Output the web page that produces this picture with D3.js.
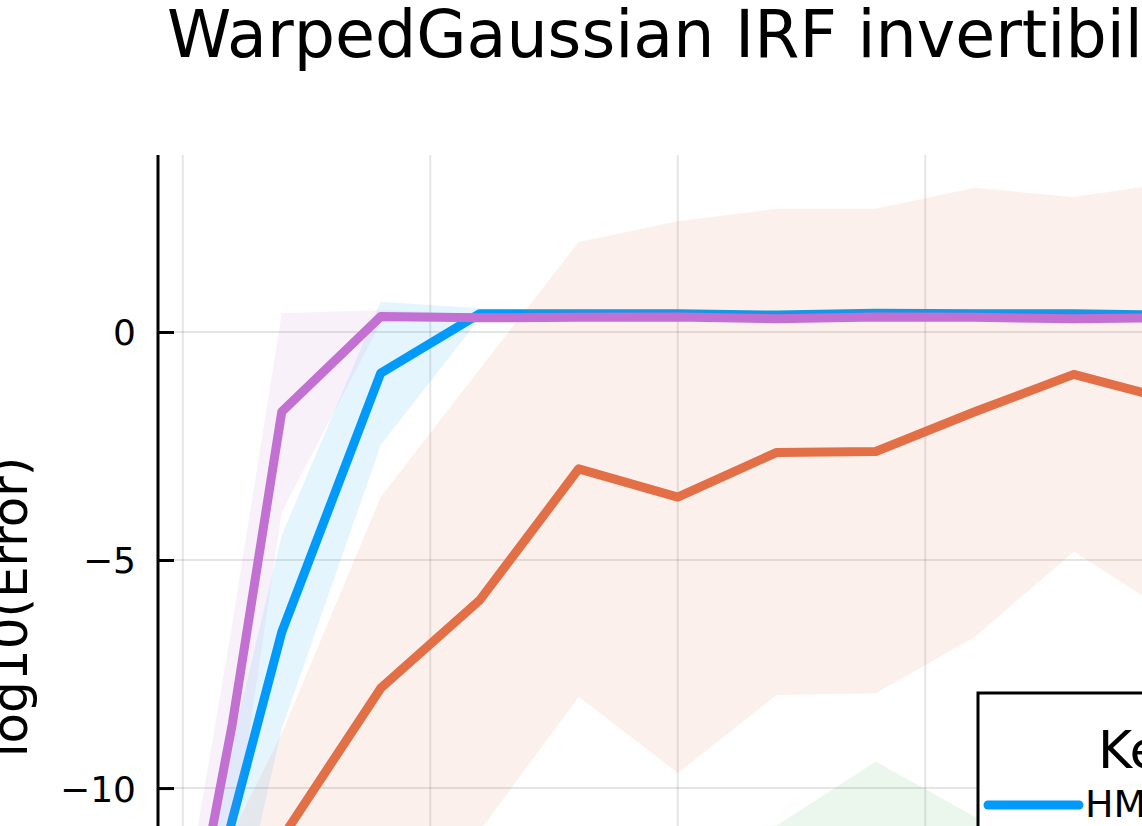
<!DOCTYPE html>
<html>
<head>
<meta charset="utf-8">
<script src="https://cdn.jsdelivr.net/npm/d3@7"></script>
<style>
  body { margin: 0; background: #fff; }
  text { font-family: "DejaVu Sans", sans-serif; }
</style>
</head>
<body>
<div id="chart"></div>
<script>
// x positions (problem size) and log10 error per kernel
var sizes = [0, 1, 2, 4, 6, 8, 10, 12, 14, 16, 18, 20];

var blueMean  = [-15.0, -10.7, -6.58, -0.90, 0.40, 0.40, 0.40, 0.37, 0.41, 0.40, 0.40, 0.37];
var blueUpper = [-13.6, -9.0, -4.45, 0.66, 0.52, 0.48, 0.48, 0.45, 0.49, 0.48, 0.48, 0.45];
var blueLower = [-15.4, -13.5, -8.7, -2.48, 0.30, 0.32, 0.32, 0.29, 0.33, 0.32, 0.32, 0.29];

var orangeMean  = [-15.2, -13.4, -11.1, -7.81, -5.88, -3.0, -3.62, -2.64, -2.62, -1.75, -0.93, -1.5];
var orangeUpper = [-13.0, -11.0, -8.8, -3.62, -0.81, 1.97, 2.43, 2.70, 2.70, 3.16, 2.96, 3.28];
var orangeLower = [-15.38, -15.0, -14.0, -12.8, -10.94, -8.0, -9.67, -7.96, -7.92, -6.69, -4.82, -6.2];

var greenSizes = [6, 8, 10, 12, 14, 16, 18, 20];
var greenMean  = [-15.0, -14.3, -13.6, -13.3, -12.4, -13.0, -13.4, -13.2];
var greenUpper = [-13.8, -12.0, -10.9, -10.82, -9.42, -10.63, -11.0, -11.2];
var greenLower = [-15.38, -15.3, -15.0, -15.2, -14.8, -15.1, -15.2, -15.0];

var purpleMean  = [-14.3, -8.6, -1.75, 0.34, 0.31, 0.32, 0.33, 0.29, 0.33, 0.32, 0.29, 0.31];
var purpleUpper = [-12.8, -6.4, 0.41, 0.48, 0.39, 0.40, 0.41, 0.37, 0.41, 0.40, 0.37, 0.39];
var purpleLower = [-15.2, -11.3, -3.95, 0.20, 0.23, 0.24, 0.25, 0.21, 0.25, 0.24, 0.21, 0.23];

var xTicks = [0, 5, 10, 15, 20];
var yTicks = [-15, -10, -5, 0];
var legendTitle = 'Kernel';
var legendNames = ['HMC'];
var titleText = 'WarpedGaussian IRF invertibility';

var series = [
  {x: sizes, mean: blueMean, lo: blueLower, hi: blueUpper, color: '#009afa'},
  {x: sizes, mean: orangeMean, lo: orangeLower, hi: orangeUpper, color: '#e26f46'},
  {x: greenSizes, mean: greenMean, lo: greenLower, hi: greenUpper, color: '#3da44d'},
  {x: sizes, mean: purpleMean, lo: purpleLower, hi: purpleUpper, color: '#c271d2'}
];

var width = 1142, height = 826;
var pLeft = 158, pRight = 1197.5, pTop = 155, pBottom = 1059;

var svg = d3.select('#chart').append('svg')
  .attr('width', width)
  .attr('height', height);

var x = d3.scaleLinear().domain([-0.5, 20.5]).range([pLeft, pRight]);
var y = d3.scaleLinear().domain([-15.94, 3.88]).range([pBottom, pTop]);

svg.append('defs').append('clipPath').attr('id', 'clip')
  .append('rect')
  .attr('x', pLeft).attr('y', pTop)
  .attr('width', pRight - pLeft).attr('height', pBottom - pTop);

// title
svg.append('text')
  .attr('x', 167)
  .attr('y', 57)
  .attr('font-size', 65)
  .text(titleText);

// grid
var grid = svg.append('g');
grid.selectAll('line.gx')
  .data(xTicks)
  .enter().append('line')
  .attr('x1', d => x(d)).attr('x2', d => x(d))
  .attr('y1', pTop).attr('y2', pBottom)
  .attr('stroke', '#000').attr('stroke-opacity', 0.1).attr('stroke-width', 2);
grid.selectAll('line.gy')
  .data(yTicks)
  .enter().append('line')
  .attr('y1', d => y(d)).attr('y2', d => y(d))
  .attr('x1', pLeft).attr('x2', pRight)
  .attr('stroke', '#000').attr('stroke-opacity', 0.1).attr('stroke-width', 2);

// ribbons + lines, drawn series by series
var plot = svg.append('g').attr('clip-path', 'url(#clip)');
series.forEach(function(s) {
  var pts = s.x.map((v, i) => ({x: v, m: s.mean[i], lo: s.lo[i], hi: s.hi[i]}));
  var area = d3.area()
    .x(d => x(d.x))
    .y0(d => y(d.lo))
    .y1(d => y(d.hi));
  var line = d3.line()
    .x(d => x(d.x))
    .y(d => y(d.m));
  plot.append('path')
    .attr('d', area(pts))
    .attr('fill', s.color)
    .attr('fill-opacity', 0.1);
  plot.append('path')
    .attr('d', line(pts))
    .attr('fill', 'none')
    .attr('stroke', s.color)
    .attr('stroke-width', 9)
    .attr('stroke-linejoin', 'round');
});

// y axis
var yAxis = d3.axisLeft(y).tickValues(yTicks).tickSize(-16).tickPadding(22);
var ya = svg.append('g')
  .attr('transform', `translate(${pLeft},0)`)
  .call(yAxis);
ya.select('.domain').attr('stroke-width', 3).attr('d', `M0,${pTop}V${pBottom}`);
ya.selectAll('.tick line').attr('stroke-width', 3);
ya.selectAll('.tick text')
  .attr('font-size', 36)
  .attr('font-family', 'DejaVu Sans')
  .attr('dy', '0.36em')
  .attr('x', -(pLeft - 136));

// x axis (sits below the visible area)
var xa = svg.append('g')
  .attr('transform', `translate(0,${pBottom})`)
  .call(d3.axisBottom(x).tickValues(xTicks).tickSize(-16).tickPadding(22));
xa.select('.domain').attr('stroke-width', 3).attr('d', `M${pLeft},0H${pRight}`);
xa.selectAll('.tick line').attr('stroke-width', 3);
xa.selectAll('.tick text').attr('font-size', 36).attr('font-family', 'DejaVu Sans');

// y label
svg.append('text')
  .attr('transform', 'translate(27,607) rotate(-90)')
  .attr('text-anchor', 'middle')
  .attr('font-size', 50)
  .text('log10(Error)');

// legend
var lg = svg.append('g');
lg.append('rect')
  .attr('x', 978).attr('y', 693)
  .attr('width', 330).attr('height', 300)
  .attr('fill', '#fff')
  .attr('stroke', '#000').attr('stroke-width', 3);
lg.append('text')
  .attr('x', 1098).attr('y', 768)
  .attr('font-size', 52)
  .text(legendTitle);
lg.selectAll('g.entry')
  .data(legendNames)
  .enter().append('g')
  .attr('class', 'entry')
  .each(function(d, i) {
    var g = d3.select(this);
    var yy = 805 + i * 46;
    g.append('line')
      .attr('x1', 988).attr('x2', 1079)
      .attr('y1', yy).attr('y2', yy)
      .attr('stroke', series[i].color)
      .attr('stroke-width', 9)
      .attr('stroke-linecap', 'round');
    g.append('text')
      .attr('x', 1085).attr('y', 817)
      .attr('font-size', 38)
      .text(d);
  });
</script>
</body>
</html>
